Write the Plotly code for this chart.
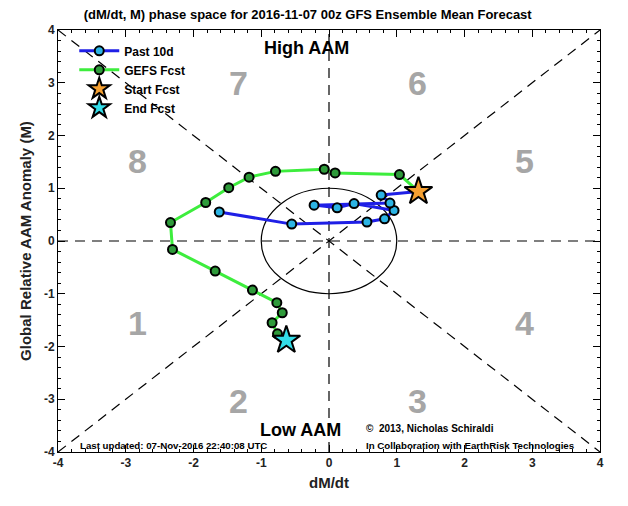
import plotly.graph_objects as go

# Past 10 days trajectory (dM/dt, M)
past_x = [-1.62, -0.55, 0.56, 0.82, 0.96, 0.37, 0.12, -0.22, 0.90, 0.77, 1.32]
past_y = [0.55, 0.32, 0.36, 0.42, 0.58, 0.71, 0.63, 0.68, 0.72, 0.87, 0.94]

# GEFS forecast trajectory
fcst_x = [1.32, 1.04, 0.09, -0.07, -0.79, -1.18, -1.48, -1.82, -2.34, -2.31,
          -1.68, -1.13, -0.77, -0.69, -0.84, -0.76, -0.63]
fcst_y = [0.94, 1.26, 1.29, 1.36, 1.32, 1.21, 1.01, 0.73, 0.35, -0.16,
          -0.57, -0.93, -1.17, -1.36, -1.55, -1.76, -1.88]

phase_labels = ["1", "2", "3", "4", "5", "6", "7", "8"]
phase_x = [-2.83, -1.34, 1.31, 2.89, 2.89, 1.31, -1.34, -2.83]
phase_y = [-1.55, -3.03, -3.03, -1.55, 1.52, 3.0, 3.0, 1.52]

tick_vals = [-4, -3, -2, -1, 0, 1, 2, 3, 4]
tick_text = ["-4", "-3", "-2", "-1", "0", "1", "2", "3", "4"]

FONT = "Liberation Sans, Arial, Helvetica, sans-serif"

fig = go.Figure()

# reference lines (dashed) and unit circle
dash = "10px,7px"
for (x0, y0, x1, y1) in [(-4, -4, 4, 4), (-4, 4, 4, -4), (-4, 0, 4, 0), (0, -4, 0, 4)]:
    fig.add_shape(type="line", x0=x0, y0=y0, x1=x1, y1=y1, xref="x", yref="y",
                  line=dict(color="black", width=1.2, dash=dash), layer="below")
fig.add_shape(type="circle", x0=-1, y0=-1, x1=1, y1=1, xref="x", yref="y",
              line=dict(color="black", width=1.2), layer="below")

# phase numbers
for t, x, y in zip(phase_labels, phase_x, phase_y):
    fig.add_annotation(x=x, y=y, text=t, showarrow=False,
                       font=dict(family=FONT, size=34, color="#a6a6a6", weight="bold"))

fig.add_trace(go.Scatter(x=past_x, y=past_y, mode="lines+markers",
                         name="Past 10d",
                         line=dict(color="#1f1fe6", width=3),
                         marker=dict(size=9, color="#2cb4e4", line=dict(color="black", width=2))))
fig.add_trace(go.Scatter(x=fcst_x, y=fcst_y, mode="lines+markers", name="GEFS Fcst",
                         line=dict(color="#3ded3d", width=3),
                         marker=dict(size=9, color="#2e9a3a", line=dict(color="black", width=2))))
fig.add_trace(go.Scatter(x=[fcst_x[0]], y=[fcst_y[0]], mode="markers", name="Start Fcst",
                         marker=dict(symbol="star", size=21, color="#f5a031",
                                     line=dict(color="black", width=2))))
fig.add_trace(go.Scatter(x=[fcst_x[-1]], y=[fcst_y[-1]], mode="markers", name="End Fcst",
                         marker=dict(symbol="star", size=21, color="#33dde8",
                                     line=dict(color="black", width=2))))

# text annotations
fig.add_annotation(x=-0.33, y=3.66, text="High AAM", showarrow=False,
                   font=dict(family=FONT, size=18, color="black", weight="bold"))
fig.add_annotation(x=-0.42, y=-3.58, text="Low AAM", showarrow=False,
                   font=dict(family=FONT, size=18, color="black", weight="bold"))
fig.add_annotation(x=0.52, y=-3.56, text="©  2013, Nicholas Schiraldi", showarrow=False,
                   xanchor="left", font=dict(family=FONT, size=10, color="black", weight="bold"))
fig.add_annotation(x=0.52, y=-3.88, text="In Collaboration with EarthRisk Technologies",
                   showarrow=False, xanchor="left",
                   font=dict(family=FONT, size=9.7, color="black", weight="bold"))
fig.add_annotation(x=-3.71, y=-3.88, text="Last updated: 07-Nov-2016 22:40:08 UTC",
                   showarrow=False, xanchor="left",
                   font=dict(family=FONT, size=9.7, color="black", weight="bold"))

axis_common = dict(
    range=[-4, 4], tickmode="array", tickvals=tick_vals, ticktext=tick_text,
    showgrid=False, zeroline=False, showline=True, mirror="allticks",
    linecolor="black", linewidth=1, ticks="inside", ticklen=7, tickcolor="black",
    tickfont=dict(family=FONT, size=12, color="#222222", weight="bold"),
    minor=dict(ticks="inside", ticklen=3, tick0=-4, dtick=0.2, tickmode="linear",
               tickcolor="black", showgrid=False),
)

fig.update_layout(
    width=628, height=506,
    margin=dict(l=58, r=28, t=30, b=54),
    paper_bgcolor="white", plot_bgcolor="white",
    title=dict(text="(dM/dt, M) phase space for 2016-11-07 00z GFS Ensemble Mean Forecast",
               x=0.49, xanchor="center", y=0.972, yanchor="middle",
               font=dict(family=FONT, size=13, color="black", weight="bold")),
    xaxis=dict(axis_common, title=dict(text="dM/dt", standoff=8,
               font=dict(family=FONT, size=15, color="#222222", weight="bold"))),
    yaxis=dict(axis_common, title=dict(text="Global Relative AAM Anomaly (M)", standoff=8,
               font=dict(family=FONT, size=15, color="#222222", weight="bold"))),
    legend=dict(x=0.03, y=0.985, xanchor="left", yanchor="top",
                bgcolor="rgba(0,0,0,0)", tracegroupgap=0,
                font=dict(family=FONT, size=12, color="black", weight="bold"),
                itemwidth=40),
    showlegend=True,
)

fig.write_html("out.html")
